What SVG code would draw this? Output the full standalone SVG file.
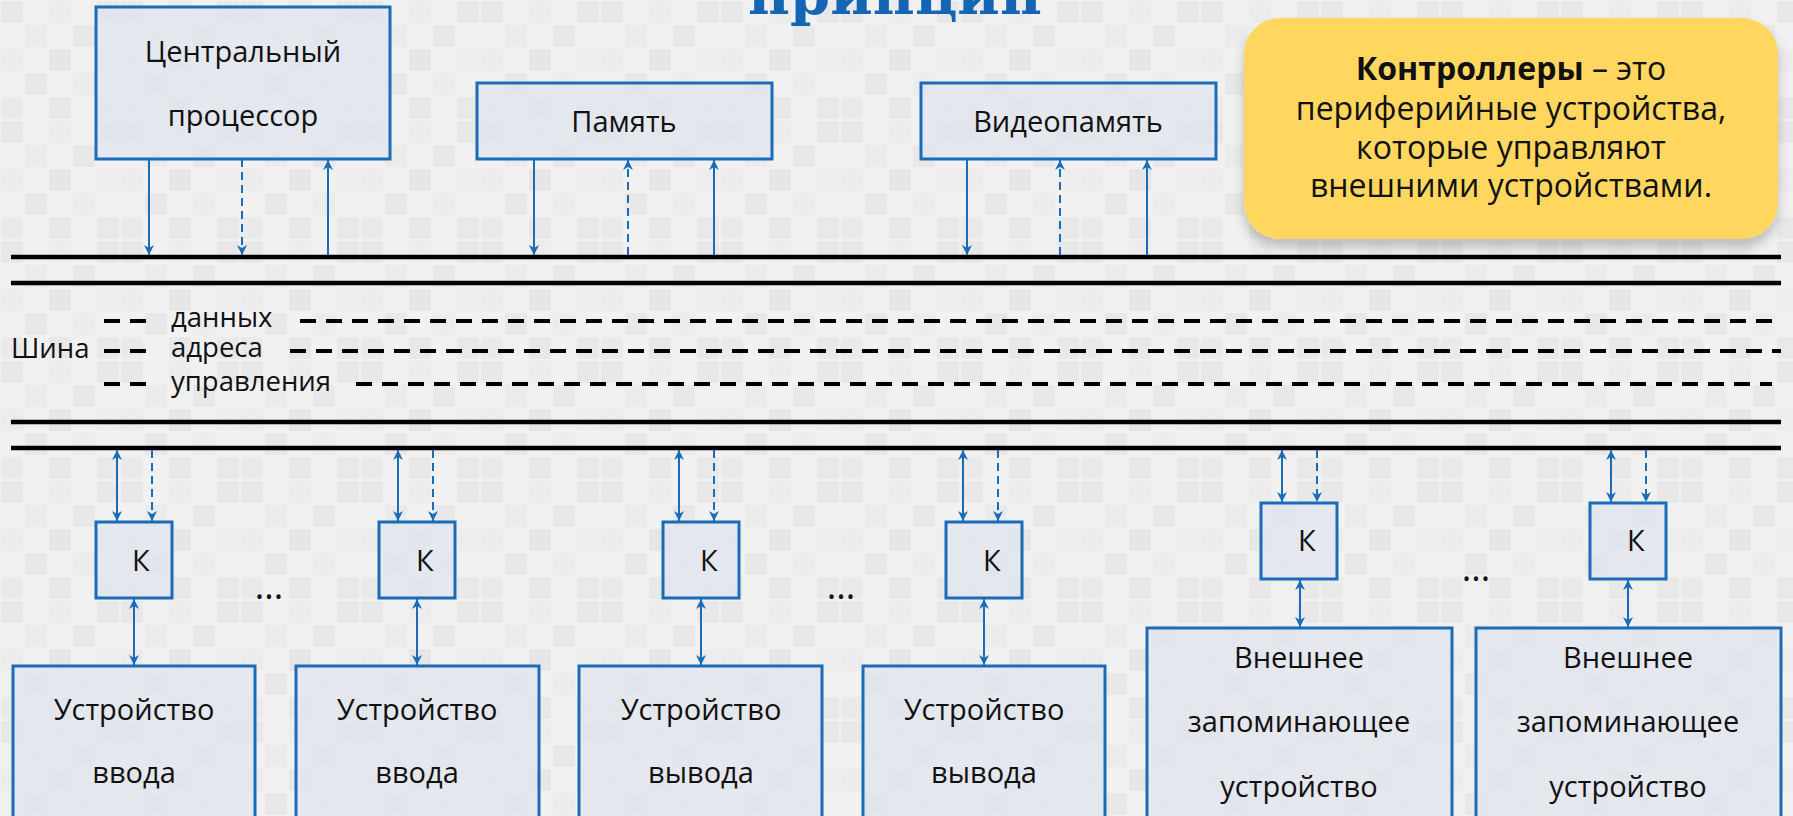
<svg xmlns="http://www.w3.org/2000/svg" width="1793" height="816" viewBox="0 0 1793 816">
<style>
.box{fill:#dfe6ee;fill-opacity:0.7;stroke:#1b6cb8;stroke-width:3}
.lbl{font-family:"Open Sans","Noto Sans","DejaVu Sans",sans-serif;font-size:29px;fill:#111;text-anchor:middle}
.bl{font-family:"Open Sans","Noto Sans","DejaVu Sans",sans-serif;font-size:27.5px;fill:#111}
.dt{font-family:"Open Sans","Noto Sans","DejaVu Sans",sans-serif;font-size:36px;fill:#111;text-anchor:middle}
.k{font-family:"Open Sans","Noto Sans","DejaVu Sans",sans-serif;font-size:29px;fill:#111}
.yt{font-family:"Open Sans","Noto Sans","DejaVu Sans",sans-serif;font-size:32px;fill:#111;text-anchor:middle}
.bus{stroke:#000;stroke-width:4.5;fill:none}
.dbus{stroke:#000;stroke-width:4;stroke-dasharray:16 10;fill:none}
.ar{stroke:#1b6cb8;stroke-width:2;fill:none}
.dar{stroke:#1b6cb8;stroke-width:2;stroke-dasharray:8 5;fill:none}
</style>
<defs>
<pattern id="bg" width="120" height="120" patternUnits="userSpaceOnUse">
<rect width="120" height="120" fill="#f1f1f1"/>
<g fill="#e8e8e8">
<rect x="1" y="1" width="22" height="22"/><rect x="49" y="1" width="22" height="22" fill="#ececec"/><rect x="97" y="1" width="22" height="22"/>
<rect x="25" y="25" width="22" height="22" fill="#ebebeb"/><rect x="73" y="25" width="22" height="22"/>
<rect x="1" y="49" width="22" height="22" fill="#ececec"/><rect x="49" y="49" width="22" height="22" fill="#e6e6e6"/><rect x="97" y="49" width="22" height="22" fill="#ededed"/>
<rect x="25" y="73" width="22" height="22"/><rect x="73" y="73" width="22" height="22" fill="#ececec"/>
<rect x="1" y="97" width="22" height="22" fill="#eaeaea"/><rect x="49" y="97" width="22" height="22"/><rect x="97" y="97" width="22" height="22" fill="#e9e9e9"/>
</g>
</pattern>
<marker id="ah" viewBox="0 0 10 10" refX="10" refY="5" markerWidth="10" markerHeight="10" markerUnits="userSpaceOnUse" orient="auto-start-reverse">
<path d="M0,0 L10,5 L0,10 L3,5 z" fill="#1b6cb8"/>
</marker>
<filter id="sh" x="-10%" y="-10%" width="120%" height="140%">
<feDropShadow dx="0" dy="8" stdDeviation="6" flood-color="#000" flood-opacity="0.22"/>
</filter>
</defs>
<rect width="1793" height="816" fill="url(#bg)"/>
<text x="895" y="14" font-family="'DejaVu Serif',serif" font-weight="bold" font-size="58" fill="#1565b5" text-anchor="middle" textLength="294" lengthAdjust="spacingAndGlyphs">принцип</text>

<g id="bus">
<line class="bus" x1="11" y1="257" x2="1781" y2="257"/>
<line class="bus" x1="11" y1="283" x2="1781" y2="283"/>
<line class="bus" x1="11" y1="422" x2="1781" y2="422"/>
<line class="bus" x1="11" y1="448" x2="1781" y2="448"/>
<line class="dbus" x1="104" y1="321" x2="146" y2="321"/>
<line class="dbus" x1="104" y1="351" x2="146" y2="351"/>
<line class="dbus" x1="104" y1="384" x2="146" y2="384"/>
<line class="dbus" x1="300" y1="321" x2="1772" y2="321"/>
<line class="dbus" x1="290" y1="351" x2="1781" y2="351"/>
<line class="dbus" x1="356" y1="384" x2="1772" y2="384"/>
<text class="bl" x="11" y="358">Шина</text>
<text class="bl" x="171" y="327">данных</text>
<text class="bl" x="171" y="357">адреса</text>
<text class="bl" x="171" y="391">управления</text>
</g>

<g id="cpu"><rect class="box" x="96" y="7" width="294" height="152"/>
<text class="lbl" x="243" y="62">Центральный</text><text class="lbl" x="243" y="126">процессор</text></g>
<g id="mem"><rect class="box" x="477" y="83" width="295" height="76"/>
<text class="lbl" x="624" y="132">Память</text></g>
<g id="vmem"><rect class="box" x="921" y="83" width="295" height="76"/>
<text class="lbl" x="1068" y="132">Видеопамять</text></g>

<g id="note">
<rect x="1244" y="18" width="534" height="221" rx="36" fill="#ffd75e" filter="url(#sh)"/>
<text class="yt" x="1511" y="80"><tspan font-weight="bold">Контроллеры</tspan> – это</text>
<text class="yt" x="1511" y="120">периферийные устройства,</text>
<text class="yt" x="1511" y="159">которые управляют</text>
<text class="yt" x="1511" y="197">внешними устройствами.</text>
</g>

<g id="k1"><rect class="box" x="96" y="522" width="76" height="76"/><text class="k" x="132" y="571">К</text></g>
<g id="k2"><rect class="box" x="379" y="522" width="76" height="76"/><text class="k" x="416" y="571">К</text></g>
<g id="k3"><rect class="box" x="663" y="522" width="76" height="76"/><text class="k" x="700" y="571">К</text></g>
<g id="k4"><rect class="box" x="946" y="522" width="76" height="76"/><text class="k" x="983" y="571">К</text></g>
<g id="k5"><rect class="box" x="1261" y="503" width="76" height="76"/><text class="k" x="1298" y="551">К</text></g>
<g id="k6"><rect class="box" x="1590" y="503" width="76" height="76"/><text class="k" x="1627" y="551">К</text></g>

<g id="d1"><rect class="box" x="13" y="666" width="242" height="170"/><text class="lbl" x="134" y="720">Устройство</text><text class="lbl" x="134" y="783">ввода</text></g>
<g id="d2"><rect class="box" x="296" y="666" width="243" height="170"/><text class="lbl" x="417" y="720">Устройство</text><text class="lbl" x="417" y="783">ввода</text></g>
<g id="d3"><rect class="box" x="579" y="666" width="243" height="170"/><text class="lbl" x="701" y="720">Устройство</text><text class="lbl" x="701" y="783">вывода</text></g>
<g id="d4"><rect class="box" x="863" y="666" width="242" height="170"/><text class="lbl" x="984" y="720">Устройство</text><text class="lbl" x="984" y="783">вывода</text></g>
<g id="d5"><rect class="box" x="1147" y="628" width="305" height="200"/><text class="lbl" x="1299" y="668">Внешнее</text><text class="lbl" x="1299" y="732">запоминающее</text><text class="lbl" x="1299" y="797">устройство</text></g>
<g id="d6"><rect class="box" x="1476" y="628" width="305" height="200"/><text class="lbl" x="1628" y="668">Внешнее</text><text class="lbl" x="1628" y="732">запоминающее</text><text class="lbl" x="1628" y="797">устройство</text></g>

<g id="dots">
<text class="dt" x="269" y="599">...</text>
<text class="dt" x="841" y="599">...</text>
<text class="dt" x="1476" y="581">...</text>
</g>

<g id="connectors">
<line class="ar" x1="149" y1="159" x2="149" y2="255" marker-end="url(#ah)"/>
<line class="dar" x1="242" y1="159" x2="242" y2="255" marker-end="url(#ah)"/>
<line class="ar" x1="328" y1="255" x2="328" y2="160" marker-end="url(#ah)"/>
<line class="ar" x1="534" y1="159" x2="534" y2="255" marker-end="url(#ah)"/>
<line class="dar" x1="628" y1="255" x2="628" y2="160" marker-end="url(#ah)"/>
<line class="ar" x1="714" y1="255" x2="714" y2="160" marker-end="url(#ah)"/>
<line class="ar" x1="967" y1="159" x2="967" y2="255" marker-end="url(#ah)"/>
<line class="dar" x1="1060" y1="255" x2="1060" y2="160" marker-end="url(#ah)"/>
<line class="ar" x1="1147" y1="255" x2="1147" y2="160" marker-end="url(#ah)"/>

<line class="ar" x1="117" y1="450" x2="117" y2="521" marker-start="url(#ah)" marker-end="url(#ah)"/>
<line class="dar" x1="152" y1="450" x2="152" y2="521" marker-end="url(#ah)"/>
<line class="ar" x1="134" y1="599" x2="134" y2="665" marker-start="url(#ah)" marker-end="url(#ah)"/>

<line class="ar" x1="398" y1="450" x2="398" y2="521" marker-start="url(#ah)" marker-end="url(#ah)"/>
<line class="dar" x1="433" y1="450" x2="433" y2="521" marker-end="url(#ah)"/>
<line class="ar" x1="417" y1="599" x2="417" y2="665" marker-start="url(#ah)" marker-end="url(#ah)"/>

<line class="ar" x1="679" y1="450" x2="679" y2="521" marker-start="url(#ah)" marker-end="url(#ah)"/>
<line class="dar" x1="714" y1="450" x2="714" y2="521" marker-end="url(#ah)"/>
<line class="ar" x1="701" y1="599" x2="701" y2="665" marker-start="url(#ah)" marker-end="url(#ah)"/>

<line class="ar" x1="963" y1="450" x2="963" y2="521" marker-start="url(#ah)" marker-end="url(#ah)"/>
<line class="dar" x1="998" y1="450" x2="998" y2="521" marker-end="url(#ah)"/>
<line class="ar" x1="984" y1="599" x2="984" y2="665" marker-start="url(#ah)" marker-end="url(#ah)"/>

<line class="ar" x1="1282" y1="450" x2="1282" y2="502" marker-start="url(#ah)" marker-end="url(#ah)"/>
<line class="dar" x1="1317" y1="450" x2="1317" y2="502" marker-end="url(#ah)"/>
<line class="ar" x1="1300" y1="580" x2="1300" y2="627" marker-start="url(#ah)" marker-end="url(#ah)"/>

<line class="ar" x1="1611" y1="450" x2="1611" y2="502" marker-start="url(#ah)" marker-end="url(#ah)"/>
<line class="dar" x1="1646" y1="450" x2="1646" y2="502" marker-end="url(#ah)"/>
<line class="ar" x1="1628" y1="580" x2="1628" y2="627" marker-start="url(#ah)" marker-end="url(#ah)"/>
</g>
</svg>
